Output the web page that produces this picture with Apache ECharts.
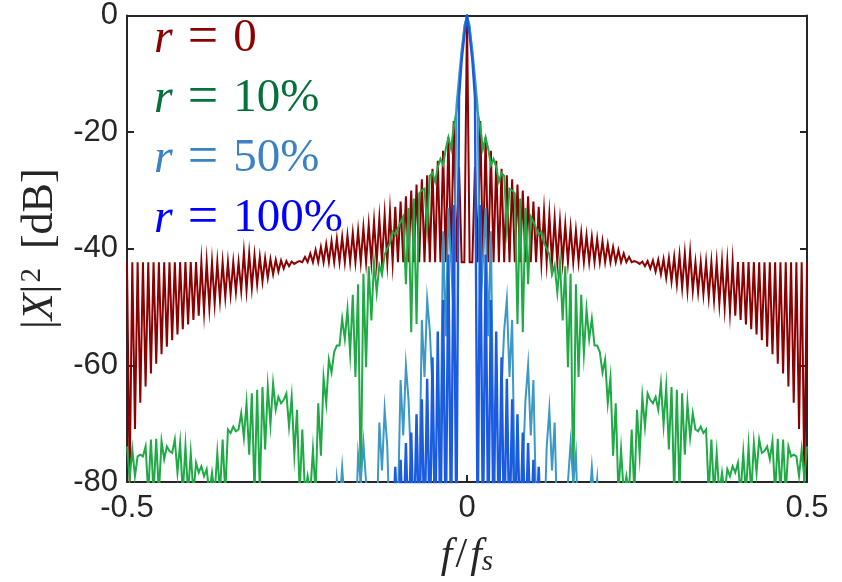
<!DOCTYPE html>
<html><head><meta charset="utf-8">
<script src="https://cdn.jsdelivr.net/npm/echarts@6/dist/echarts.min.js"></script>
<style>html,body{margin:0;padding:0;background:#fff}#c{width:842px;height:582px}</style>
</head><body><div id="c"></div>
<script>
// FFT bins per unit of normalised frequency f/fs (bin n sits at f = n / BINS)
const BINS = 256;
const xTicks = [-0.5, 0, 0.5];
const yTicks = [-80, -60, -40, -20, 0];
const legendLabels = ['0', '10%', '50%', '100%'];

// r = 0 : bins -128 .. 0 and 1 .. 128  (|X|^2 in dB)
const redNeg = [-42.3,-80,-42.3,-70.9,-42.3,-66.4,-42.3,-63.6,-42.3,-61.4,
 -42.3,-59.7,-42.3,-58.1,-42.3,-56.8,-42.3,-55.7,-42.3,-54.7,
 -42.3,-53.8,-42.3,-53.0,-42.3,-52.2,-42.3,-51.5,-42.3,-50.8,
 -42.3,-50.1,-42.3,-49.4,-42.3,-48.8,-42.3,-48.3,-42.3,-47.8,
 -42.3,-47.4,-42.3,-47.2,-40.6,-47.1,-40.8,-46.7,-41.1,-46.1,
 -41.4,-45.6,-41.6,-45.0,-41.8,-44.4,-41.9,-43.9,-42.0,-43.4,
 -42.1,-43.0,-42.2,-42.6,-42.3,-42.1,-42.3,-41.4,-42.3,-40.8,
 -42.3,-40.2,-42.3,-39.7,-42.3,-39.2,-42.3,-38.7,-42.3,-38.3,
 -42.3,-38.0,-42.3,-37.7,-42.3,-37.3,-42.3,-36.9,-42.3,-36.4,
 -42.3,-35.9,-42.3,-35.3,-42.3,-34.8,-42.3,-34.2,-42.3,-33.6,
 -42.3,-32.8,-42.3,-31.9,-42.3,-31.0,-42.3,-30.0,-42.3,-29.0,
 -42.3,-28.1,-42.3,-27.4,-42.3,-26.3,-42.3,-24.9,-42.3,-23.2,
 -42.3,-20.9,-42.3,-18.1,-42.3,-26.0,-42.3,-42.3,0];
const redPos = [-42.3,-42.3,-26.0,-42.3,-18.1,-42.3,-20.9,-42.3,
 -23.2,-42.3,-24.9,-42.3,-26.3,-42.3,-27.4,-42.3,-28.1,-42.3,
 -29.0,-42.3,-30.0,-42.3,-31.0,-42.3,-31.9,-42.3,-32.8,-42.3,
 -33.6,-42.3,-34.2,-42.3,-34.8,-42.3,-35.3,-42.3,-35.9,-42.3,
 -36.4,-42.3,-36.9,-42.3,-37.3,-42.3,-37.7,-42.3,-38.0,-42.3,
 -38.3,-42.3,-38.7,-42.3,-39.2,-42.3,-39.7,-42.3,-40.2,-42.3,
 -40.8,-42.3,-41.4,-42.3,-42.1,-42.3,-42.6,-42.2,-43.0,-42.1,
 -43.4,-42.0,-43.9,-41.9,-44.4,-41.8,-45.0,-41.6,-45.6,-41.4,
 -46.1,-41.1,-46.7,-40.8,-47.1,-40.6,-47.2,-42.3,-47.4,-42.3,
 -47.8,-42.3,-48.3,-42.3,-48.8,-42.3,-49.4,-42.3,-50.1,-42.3,
 -50.8,-42.3,-51.5,-42.3,-52.2,-42.3,-53.0,-42.3,-53.8,-42.3,
 -54.7,-42.3,-55.7,-42.3,-56.8,-42.3,-58.1,-42.3,-59.7,-42.3,
 -61.4,-42.3,-63.6,-42.3,-66.4,-42.3,-70.9,-42.3,-80,-42.3];

// r = 10% : bins -128 .. 0 and 1 .. 128
const greenNeg = [-73.9,-79.5,-74.4,-79.0,-75.6,-75.3,-75.6,-73.9,-82,-72.7,
 -82,-72.6,-82,-73.0,-76.1,-73.9,-74.7,-75.0,-72.7,-78.4,
 -73.3,-82,-73.9,-82,-75.0,-82,-76.7,-78.4,-77.3,-79.0,
 -77.8,-82,-78.4,-82,-75.0,-82,-72.7,-82,-71.0,-71.6,
 -70.5,-71.3,-71.0,-68.2,-72.4,-66.5,-75.3,-64.8,-82,-64.2,
 -82,-63.7,-74.4,-63.7,-70.2,-63.1,-67.6,-65.4,-66.5,-65.9,
 -64.8,-70.5,-65.4,-75.3,-67.6,-82,-71.0,-82,-79,-82,
 -74.4,-82,-66.5,-75.5,-62.1,-66.5,-59.0,-61.2,-57.7,-56.6,
 -56.6,-52.0,-55.5,-50.4,-58.0,-47.9,-62.0,-46.1,-82,-44.3,
 -60.3,-43.0,-52.3,-42.2,-47.5,-42.8,-44.4,-41.0,-40.0,-39.0,
 -37.1,-37.6,-36.5,-35.4,-34.5,-46.1,-33.0,-54.3,-31.4,-52.9,
 -30.5,-30.0,-29.7,-36.5,-27.5,-27.0,-28.5,-26.0,-24.6,-25.7,
 -22.9,-20.9,-22.9,-19.0,-16.5,-13.3,-6.5,-1.8,0];
const greenPos = [-1.8,-6.5,-13.3,-16.5,-19.0,-22.9,-20.9,-22.9,-25.7,-24.6,
 -26.0,-28.5,-27.0,-27.5,-36.5,-29.7,-30.0,-30.5,-52.9,-31.4,
 -54.3,-33.0,-46.1,-34.5,-35.4,-36.5,-37.6,-37.1,-39.0,-40.0,
 -41.0,-44.4,-42.8,-47.5,-42.2,-52.3,-43.0,-60.3,-44.3,-82,
 -46.1,-62.0,-47.9,-58.0,-50.4,-55.5,-52.0,-56.6,-56.6,-57.7,
 -61.2,-59.0,-66.5,-62.1,-75.5,-66.5,-82,-74.4,-82,-79,
 -82,-71.0,-82,-67.6,-75.3,-65.4,-70.5,-64.8,-65.9,-66.5,
 -65.4,-67.6,-63.1,-70.2,-63.7,-74.4,-63.7,-82,-64.2,-82,
 -64.8,-75.3,-66.5,-72.4,-68.2,-71.0,-71.3,-70.5,-71.6,-71.0,
 -82,-72.7,-82,-75.0,-82,-78.4,-82,-77.8,-79.0,-77.3,
 -78.4,-76.7,-82,-75.0,-82,-73.9,-82,-73.3,-78.4,-72.7,
 -75.0,-74.7,-73.9,-76.1,-73.0,-82,-72.6,-82,-72.7,-82,
 -73.9,-75.6,-75.3,-75.6,-79.0,-74.4,-79.5,-73.9];

// r = 50% : bins -50 .. 50 (everything outside lies below -80 dB)
const lightBlueStart = -50;
const lightBlue = [-90,-79.5,-84,-77.5,-84,-90,-90,-90,-90,-75.3,
 -80,-73.3,-80,-90,-90,-90,-88,-69.8,-78,-67.6,
 -74,-90,-90,-90,-84,-62.5,-72,-60,-66,-78,
 -90,-90,-82,-52.2,-62,-48.7,-54,-64,-90,-90,
 -76,-37,-55,-33,-42,-52,-15.6,-10.5,-5.8,-2.3,
 0,
 -2.3,-5.8,-10.5,-15.6,-52,-42,-33,-55,-37,-76,
 -90,-90,-64,-54,-48.7,-62,-52.2,-82,-90,-90,
 -78,-66,-60,-72,-62.5,-84,-90,-90,-90,-74,
 -67.6,-78,-69.8,-88,-90,-90,-90,-80,-73.3,-80,
 -75.3,-90,-90,-90,-90,-84,-77.5,-84,-79.5,-90];

// r = 100% : bins -28 .. 28
const blueStart = -28;
const blue = [-90,-77.4,-90,-76.2,-90,-73.3,-90,-71.5,-90,-68.4,
 -90,-65.8,-90,-62.3,-90,-58.6,-90,-54.2,-90,-48.8,
 -90,-41.0,-90,-32.5,-90,-14.0,-7.6,-3.4,0,-3.4,
 -7.6,-14.0,-90,-32.5,-90,-41.0,-90,-48.8,-90,-54.2,
 -90,-58.6,-90,-62.3,-90,-65.8,-90,-68.4,-90,-71.5,
 -90,-73.3,-90,-76.2,-90,-77.4,-90];

const seriesColors = ['#8b0000', '#1faa46', '#3c98c4', '#1b5be0'];
const legendColors = ['#8b0000', '#04703a', '#3b82c4', '#0000ff'];

function pairs(vals, startBin) {
  return vals.map((v, i) => [(startBin + i) / BINS, v]);
}

const chart = echarts.init(document.getElementById('c'), null, {renderer: 'canvas'});
const AX = '#262626';
const serif = '"Liberation Serif", "Times New Roman", serif';
const sans = '"Liberation Sans", Arial, Helvetica, sans-serif';

const lineSeries = [
  {name: 'r = 0', data: pairs(redNeg.concat(redPos), -128)},
  {name: 'r = 10%', data: pairs(greenNeg.concat(greenPos), -128)},
  {name: 'r = 50%', data: pairs(lightBlue, lightBlueStart)},
  {name: 'r = 100%', data: pairs(blue, blueStart)}
].map((s, i) => ({
  type: 'line', name: s.name, data: s.data, showSymbol: false, symbol: 'none',
  clip: true, animation: false, z: 2 + i,
  lineStyle: {color: seriesColors[i], width: i === 3 ? 2.4 : 2, join: 'miter', miterLimit: 20},
  itemStyle: {color: seriesColors[i]}
}));

const common = {
  axisLine: {show: true, onZero: false, lineStyle: {color: AX, width: 2}},
  axisTick: {show: true, inside: true, length: 7, lineStyle: {color: AX, width: 2}},
  splitLine: {show: false}
};

const option = {
  animation: false,
  backgroundColor: '#ffffff',
  grid: {left: 127, right: 35, top: 15, bottom: 95, containLabel: false},
  xAxis: [
    Object.assign({
      type: 'value', position: 'bottom', min: xTicks[0], max: xTicks[xTicks.length - 1], interval: 0.5,
      axisLabel: {show: true, margin: 11, fontSize: 31, color: AX, fontFamily: sans,
        formatter: v => (Math.abs(v) < 1e-9 ? '0' : String(v))},
      name: '{i|f}{n|/}{i|f}{s|s}', nameLocation: 'middle', nameGap: 52,
      nameTextStyle: {color: AX, fontFamily: serif, fontSize: 42,
        rich: {
          i: {fontFamily: serif, fontStyle: 'italic', fontSize: 42, color: AX},
          n: {fontFamily: serif, fontSize: 42, color: AX, padding: [0, 3, 0, 3]},
          s: {fontFamily: serif, fontStyle: 'italic', fontSize: 29, color: AX, verticalAlign: 'bottom', padding: [14, 0, 0, 0]}
        }}
    }, common),
    Object.assign({
      type: 'value', position: 'top', min: xTicks[0], max: xTicks[xTicks.length - 1], interval: 0.5,
      axisLabel: {show: false}
    }, common)
  ],
  yAxis: [
    Object.assign({
      type: 'value', position: 'left', min: yTicks[0], max: yTicks[yTicks.length - 1], interval: 20,
      axisLabel: {show: true, margin: 9, fontSize: 31, color: AX, fontFamily: sans},
      name: '{n||}{i|X}{n||}{s|2}{n| [dB]}', nameLocation: 'middle', nameGap: 62, nameRotate: 90,
      nameTextStyle: {color: AX, fontFamily: serif, fontSize: 44,
        rich: {
          i: {fontFamily: serif, fontStyle: 'italic', fontSize: 44, color: AX},
          n: {fontFamily: serif, fontSize: 44, color: AX},
          s: {fontFamily: serif, fontSize: 29, color: AX, verticalAlign: 'top', padding: [0, 8, 16, 2]}
        }}
    }, common),
    Object.assign({
      type: 'value', position: 'right', min: yTicks[0], max: yTicks[yTicks.length - 1], interval: 20,
      axisLabel: {show: false}
    }, common)
  ],
  series: lineSeries,
  graphic: legendLabels.map((lab, i) => ({
    type: 'text', left: 154, top: 12 + i * 60, z: 100,
    style: {
      text: '{i|r}{e|=}{n|' + lab + '}',
      fill: legendColors[i],
      font: '47px ' + serif,
      rich: {
        i: {fontFamily: serif, fontStyle: 'italic', fontSize: 48, fill: legendColors[i]},
        e: {fontFamily: serif, fontSize: 54, fill: legendColors[i], padding: [0, 15, 0, 15]},
        n: {fontFamily: serif, fontSize: 47, fill: legendColors[i]}
      }
    }
  }))
};
chart.setOption(option);
</script>
</body></html>
